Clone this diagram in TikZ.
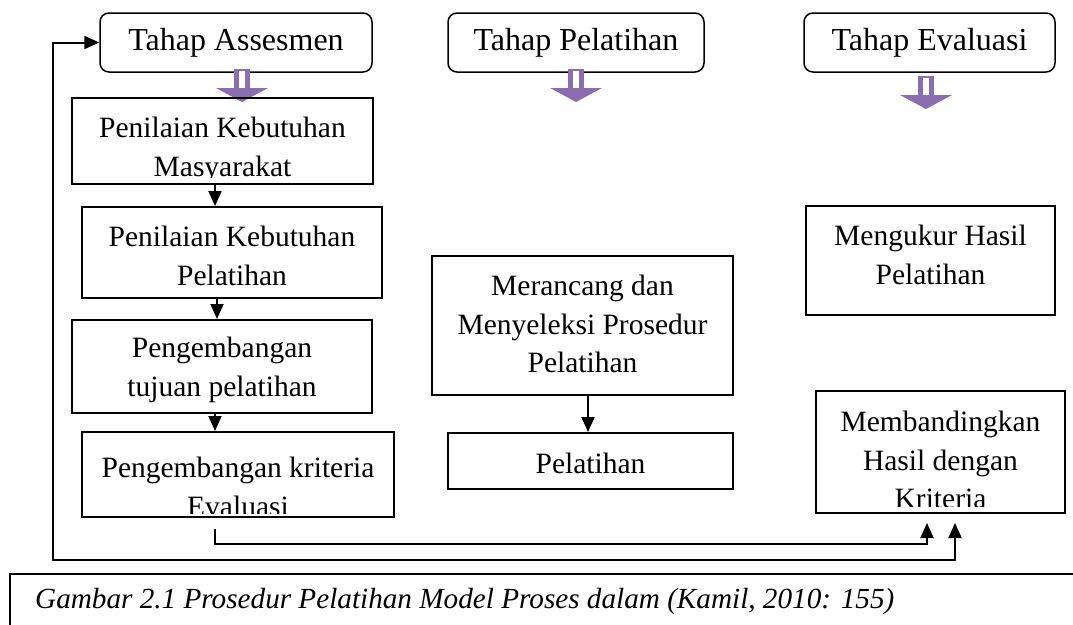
\documentclass[tikz,border=0pt]{standalone}
\usepackage{fontspec}
\setmainfont{Liberation Serif}
\usetikzlibrary{arrows.meta,calc}
\definecolor{purp}{HTML}{8B6EB0}
\newcommand\dfont{\fontsize{29.5}{38.5}\selectfont}
\newcommand\hfont{\fontsize{32}{38.5}\selectfont}
\newcommand\cfont{\fontsize{29.2}{38.5}\selectfont}
\begin{document}
\begin{tikzpicture}[x=1pt,y=-1pt,
  stage/.style={draw, rounded corners=9pt, line width=1.5pt, inner sep=0pt, font=\hfont},
  box/.style={draw, line width=2pt, inner sep=0pt},
  txt/.style={align=center, inner sep=0pt, font=\dfont},
  arr/.style={line width=2pt, -{Triangle[length=15pt,width=13pt]}},
  both/.style={line width=2pt, {Triangle[length=15pt,width=13pt]}-{Triangle[length=15pt,width=13pt]}},
  downarr/.pic={
    \fill[purp] (-8,0) rectangle (8,19);
    \fill[white] (-3,2) rectangle (3,19);
    \fill[purp] (-26,19) -- (26,19) -- (0,33) -- cycle;
  }
]
\useasboundingbox (0,0) rectangle (1073,624);
\fill[white] (0,0) rectangle (1073,624);

% stage headers
\node[stage, minimum width=272pt, minimum height=59pt] (a1) at (236,42.5) {Tahap Assesmen};
\node[stage, minimum width=256pt, minimum height=59pt] (a2) at (576,42.5) {Tahap Pelatihan};
\node[stage, minimum width=251pt, minimum height=59pt] (a3) at (929.5,42.5) {Tahap Evaluasi};

% purple block arrows
\pic at (242,69) {downarr};
\pic at (576,69) {downarr};
\pic at (926,76) {downarr};

% assessment column
\node[box, minimum width=301pt, minimum height=86pt] (b1) at (222.5,141) {};
\begin{scope}
  \clip ([yshift=8pt]b1.south west) rectangle (b1.north east);
  \node[txt] (b1t) at (222.5,150) {Penilaian Kebutuhan\\Masyarakat};
\end{scope}
\node[box, minimum width=300pt, minimum height=91pt] (b2) at (232,252.5) {};
\node[txt] (b2t) at (232,256) {Penilaian Kebutuhan\\Pelatihan};
\node[box, minimum width=300pt, minimum height=93pt] (b3) at (222,366.5) {};
\node[txt] (b3t) at (222,370) {Pengembangan\\tujuan pelatihan};
\node[box, minimum width=312pt, minimum height=85pt] (b4) at (238,474.5) {};
\begin{scope}
  \clip ([yshift=5pt]b4.south west) rectangle (b4.north east);
  \node[txt] (b4t) at (238,487) {Pengembangan kriteria\\Evaluasi};
\end{scope}

% training column
\node[box, minimum width=301pt, minimum height=139pt] (p1) at (582.5,325.5) {};
\node[txt] (p1t) at (582.5,324) {Merancang dan\\Menyeleksi Prosedur\\Pelatihan};
\node[box, minimum width=285pt, minimum height=56pt] (p2) at (590.5,461) {};
\node[txt] (p2t) at (590.5,463) {Pelatihan};

% evaluation column
\node[box, minimum width=249pt, minimum height=109pt] (e1) at (930.5,260.5) {};
\node[txt] (e1t) at (930.5,255) {Mengukur Hasil\\Pelatihan};
\node[box, minimum width=249pt, minimum height=122pt] (e2) at (940.5,452) {};
\begin{scope}
  \clip ([yshift=8pt]e2.south west) rectangle (e2.north east);
  \node[txt] (e2t) at (940.5,460) {Membandingkan\\Hasil dengan\\Kriteria};
\end{scope}

% vertical connectors
\draw[arr] ([xshift=-7.5pt]b1.south) -- ([xshift=-7.5pt]b1.south |- b2.north);
\draw[arr] ([xshift=-15pt]b2.south) -- ([xshift=-15pt]b2.south |- b3.north);
\draw[arr] ([xshift=-7pt]b3.south) -- ([xshift=-7pt]b3.south |- b4.north);
\draw[arr] ([xshift=5.5pt]p1.south) -- ([xshift=5.5pt]p1.south |- p2.north);

% feedback lines
\coordinate (t1) at (215,529);
\coordinate (t2) at (215,544);
\coordinate (l1) at (53,560);
\draw[arr] (t1) -- (t2) -| ([xshift=-13.5pt,yshift=-9pt]e2.south);
\draw[both] ([xshift=14.5pt,yshift=-9pt]e2.south) |- (l1) |- (a1.west);

% caption
\draw[line width=1.5pt] (10,660) -- (10,574) -- (1090,574);
\node[anchor=west, inner sep=0pt, font=\cfont\itshape] (cap) at (35,601)
  {Gambar 2.1 Prosedur Pelatihan Model Proses dalam (Kamil, 2010: 155)};
\end{tikzpicture}
\end{document}
